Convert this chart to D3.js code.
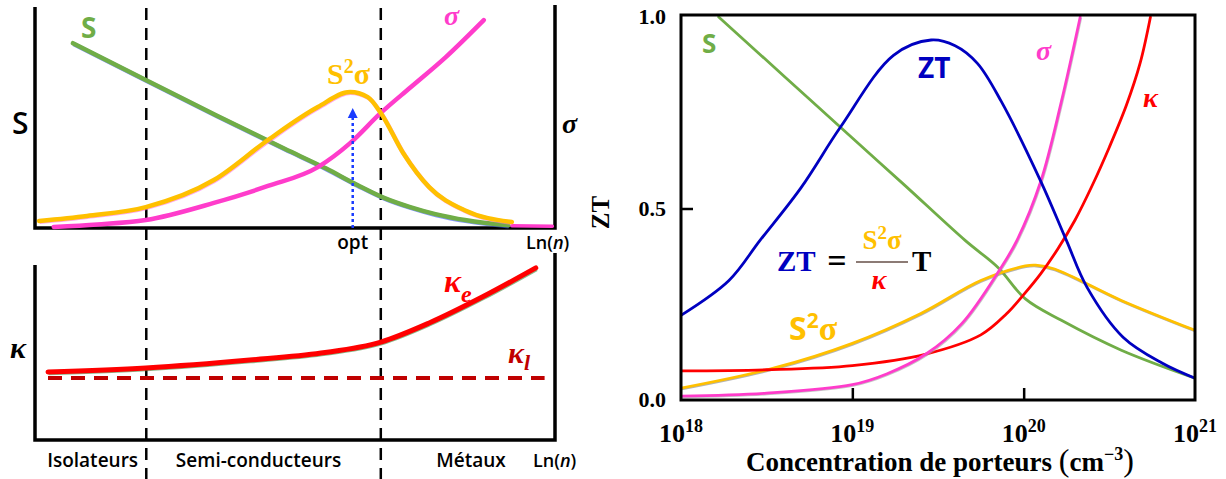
<!DOCTYPE html>
<html><head><meta charset="utf-8">
<script src="https://cdn.jsdelivr.net/npm/d3@7"></script>
<style>body{margin:0;background:#fff}svg{display:block}</style>
</head><body>
<svg id="fig" width="1226" height="479"></svg>
<script>
// ---------- Schematic (left): Ln(n) on an arbitrary 0–100 scale ----------
const regimeBounds = [21.4, 66.5];
const regimeNames = ["Isolateurs", "Semi-conducteurs", "Métaux"];
const schemSeebeck = [[7.3,84],[21.3,67.3],[35,51],[48,36],[56,27],[62,19.5],[67,13.8],[72,9.6],[77,6.3],[83,3.5],[91,1.2]];
const schemSigma = [[3.6,0.5],[12,1.6],[21.3,3.6],[34.4,11.4],[44.8,19.1],[54.4,27.7],[60.6,38.6],[66.5,52.3],[72.3,64.1],[79,77.7],[86.3,94.5]];
const schemPF = [[0.8,3.2],[10,5.5],[21.3,9.5],[34.4,21.8],[44.8,40],[54.4,55],[60.6,61.8],[64,59.5],[66.5,52.3],[70.8,34.1],[75.8,18.6],[82.5,8.2],[91.7,2.7]];
const schemTail = [[91.7,1.0],[99.5,0.8]];
const optimum = [61.1, 55];
const schemKe = [[2.5,37.8],[21.3,40],[41.3,44.4],[55,48.3],[66.5,54.4],[75.8,65],[86,79.4],[96.3,95.6]];
const schemKl = [[2.5,34.4],[98,34.4]];

// ---------- ZT versus carrier concentration (right), x = log10(n) ----------
const nTicks = [18, 19, 20, 21];
const yTicks = [0, 0.5, 1];
const ztCurve = [[18,0.221],[18.28,0.312],[18.46,0.416],[18.7,0.554],[18.93,0.712],[19.24,0.9],[19.46,0.94],[19.6,0.925],[19.73,0.879],[19.87,0.779],[20.1,0.571],[20.25,0.416],[20.37,0.294],[20.58,0.164],[20.81,0.096],[21,0.057]];
const seebeckCurve = [[18.22,1.0],[18.6,0.846],[19,0.684],[19.3,0.563],[19.66,0.416],[19.85,0.346],[20.01,0.264],[20.22,0.208],[20.57,0.13],[21,0.057]];
const sigmaCurve = [[18,0.01],[18.5,0.018],[19,0.04],[19.2,0.068],[19.43,0.12],[19.64,0.2],[19.86,0.34],[19.96,0.416],[20.1,0.571],[20.22,0.779],[20.33,1.0]];
const kappaCurve = [[18,0.076],[18.5,0.079],[19,0.09],[19.43,0.12],[19.75,0.17],[19.9,0.225],[20,0.275],[20.1,0.33],[20.2,0.395],[20.3,0.47],[20.4,0.56],[20.5,0.66],[20.6,0.77],[20.68,0.88],[20.74,1.0]];
const pfCurve = [[18,0.031],[18.54,0.083],[19,0.148],[19.4,0.226],[19.75,0.312],[20.01,0.35],[20.07,0.352],[20.18,0.342],[20.57,0.26],[21,0.182]];

const C = {green:"#70ad47", pink:"#ff3ccb", gold:"#ffc000", blue:"#0000c0", red:"#ff0000", dred:"#c00000", arrow:"#1a3cff"};
const sans = "'Open Sans', sans-serif", serif = "'Liberation Serif', 'DejaVu Serif', serif";

const svg = d3.select("#fig");

// ===== left schematic =====
const sx = d3.scaleLinear().domain([0,100]).range([35,555]);
const syTop = d3.scaleLinear().domain([0,100]).range([228,8]);
const syBot = d3.scaleLinear().domain([0,100]).range([440,260]);
const left = svg.append("g");

function frame(g, y, yTopL, yTopR){
  g.append("path").attr("fill","none").attr("stroke","#000").attr("stroke-width",3.5)
    .attr("d",`M${sx(0)},${yTopL}V${y(0)}H${sx(100)}V${yTopR}`);
}
frame(left, syTop, 7, 5);
frame(left, syBot, 265, 253);

// regime boundaries
left.selectAll("line.bound").data(regimeBounds).join("line")
  .attr("x1",d=>sx(d)).attr("x2",d=>sx(d)).attr("y1",8).attr("y2",479)
  .attr("stroke","#000").attr("stroke-width",2.5).attr("stroke-dasharray","12,8");

const lineTop = d3.line().x(d=>sx(d[0])).y(d=>syTop(d[1])).curve(d3.curveMonotoneX);
const lineBot = d3.line().x(d=>sx(d[0])).y(d=>syBot(d[1])).curve(d3.curveMonotoneX);

function stroke(g, gen, data, color, w, shade, extra){
  if (shade) g.append("path").attr("d",gen(data)).attr("fill","none").attr("stroke",shade)
      .attr("stroke-width",w).attr("transform","translate(0.6,0.8)").attr("opacity",0.6);
  const p = g.append("path").attr("d",gen(data)).attr("fill","none").attr("stroke",color)
    .attr("stroke-width",w).attr("stroke-linecap","round");
  if (extra) extra(p);
  return p;
}
stroke(left, lineTop, schemTail, C.pink, 3.5);
stroke(left, lineTop, schemSeebeck, C.green, 4.5, "#3050ff");
stroke(left, lineTop, schemSigma, C.pink, 4.5);
stroke(left, lineTop, schemPF, C.gold, 4.5, "#ff70e0");
stroke(left, lineBot, schemKe, C.red, 5, "#3a8a3a");
stroke(left, lineBot, schemKl, C.dred, 4, null, p=>p.attr("stroke-dasharray","14,9").attr("stroke-linecap","butt"));

// optimum arrow
const defs = svg.append("defs");
defs.append("marker").attr("id","ah").attr("viewBox","0 0 10 10").attr("refX",5).attr("refY",5)
  .attr("markerWidth",4).attr("markerHeight",4.5).attr("orient","auto")
  .append("path").attr("d","M0,0L10,5L0,10Z").attr("fill",C.arrow);
left.append("line").attr("x1",sx(optimum[0])).attr("x2",sx(optimum[0]))
  .attr("y1",syTop(0)).attr("y2",syTop(optimum[1])+6)
  .attr("stroke",C.arrow).attr("stroke-width",2.5).attr("stroke-dasharray","3,3")
  .attr("marker-end","url(#ah)");

function txt(g, x, y, s, opts){
  const t = g.append("text").attr("x",x).attr("y",y).text(s)
    .attr("font-family",opts.family||sans).attr("font-size",opts.size)
    .attr("font-weight",opts.weight||"bold").attr("fill",opts.fill||"#000");
  if (opts.italic) t.attr("font-style","italic");
  if (opts.anchor) t.attr("text-anchor",opts.anchor);
  return t;
}

txt(left, 81, 38, "S", {size:28, fill:C.green});
txt(left, 12, 134, "S", {size:30, weight:600});
txt(left, 444, 25, "σ", {size:28, family:serif, italic:true, fill:C.pink});
txt(left, 562, 133, "σ", {size:28, family:serif, italic:true});
{ const t = txt(left, 327, 84, "", {size:30, family:serif, fill:C.gold});
  t.append("tspan").text("S");
  t.append("tspan").attr("dy",-11).attr("font-size",20).text("2");
  t.append("tspan").attr("dy",11).text("σ"); }
txt(left, sx(optimum[0]), 249, "opt", {size:19, weight:600, anchor:"middle"});
[[526,249],[533,467]].forEach(([lx,ly])=>{
  const t = txt(left, lx, ly, "Ln(", {size:18, weight:600});
  t.append("tspan").attr("font-style","italic").text("n");
  t.append("tspan").text(")");
});

txt(left, 10, 358, "κ", {size:30, family:serif, italic:true});
{ const t = txt(left, 444, 292, "κ", {size:32, family:serif, italic:true, fill:C.red});
  t.append("tspan").attr("dy",10).attr("font-size",24).text("e"); }
{ const t = txt(left, 508, 363, "κ", {size:30, family:serif, italic:true, fill:C.dred});
  t.append("tspan").attr("dy",7).attr("font-size",22).text("l"); }

const regimeCenters = [ (sx(0)+sx(regimeBounds[0]))/2 + 2, (sx(regimeBounds[0])+sx(regimeBounds[1]))/2 - 5, 471 ];
regimeNames.forEach((n,i)=> txt(left, regimeCenters[i], 467, n, {size:19, weight:600, anchor:"middle"}));

// ===== right chart =====
const x = d3.scaleLog().domain([1e18,1e21]).range([681,1195]);
const y = d3.scaleLinear().domain([0,1]).range([400,17]);
const right = svg.append("g");
const ln = d3.line().x(d=>x(Math.pow(10,d[0]))).y(d=>y(d[1])).curve(d3.curveCatmullRom.alpha(0.5));

right.append("defs").append("clipPath").attr("id","clipR").append("rect")
  .attr("x",681).attr("y",15).attr("width",514).attr("height",385);
const plot = right.append("g").attr("clip-path","url(#clipR)");
[[seebeckCurve,C.green],[pfCurve,C.gold,"#808080"],[kappaCurve,C.red],[sigmaCurve,C.pink,"#a0a0a0"],[ztCurve,C.blue]]
  .forEach(([d,c,sh])=> stroke(plot, ln, d, c, 2.8, sh));

// frame
right.append("rect").attr("x",681).attr("y",15).attr("width",514).attr("height",385)
  .attr("fill","none").attr("stroke","#000").attr("stroke-width",3);

// inner ticks
const xAxis = d3.axisBottom(x).tickValues(nTicks.slice(1,3).map(e=>Math.pow(10,e))).tickSize(-12).tickFormat("");
right.append("g").attr("transform","translate(0,400)").call(xAxis)
  .call(g=>g.select(".domain").remove())
  .call(g=>g.selectAll("line").attr("stroke-width",2.5));
const yAxis = d3.axisLeft(y).tickValues([0.5]).tickSize(-12).tickFormat("");
right.append("g").attr("transform","translate(681,0)").call(yAxis)
  .call(g=>g.select(".domain").remove())
  .call(g=>g.selectAll("line").attr("stroke-width",2.5));

// tick labels
nTicks.forEach(e=>{
  const t = txt(right, x(Math.pow(10,e)), 442, "", {size:26, family:serif, anchor:"middle"});
  t.append("tspan").text("10");
  t.append("tspan").attr("dy",-10).attr("font-size",18).text(String(e));
});
yTicks.forEach(v=> txt(right, 666, y(v)+7, d3.format(".1f")(v), {size:22, family:serif, anchor:"end"}));
txt(right, 0, 0, "ZT", {size:25, family:serif, anchor:"middle"})
  .attr("transform",`translate(609,${y(0.5)+4}) rotate(-90)`);
{ const t = txt(right, 940, 471, "Concentration de porteurs ", {size:27, family:serif, anchor:"middle"});
  t.append("tspan").attr("font-weight","normal").attr("font-size",32).text("(");
  t.append("tspan").text("cm");
  t.append("tspan").attr("dy",-11).attr("font-size",18).text("−3");
  t.append("tspan").attr("dy",11).attr("font-weight","normal").attr("font-size",32).text(")"); }

// curve labels
txt(right, 702, 53, "S", {size:26, fill:C.green});
txt(right, 918, 78, "ZT", {size:28, fill:C.blue});
txt(right, 1036, 60, "σ", {size:28, family:serif, italic:true, fill:C.pink});
txt(right, 1143, 107, "κ", {size:28, family:serif, italic:true, fill:C.red});
{ const t = txt(right, 789, 340, "", {size:32, fill:C.gold});
  t.append("tspan").text("S");
  t.append("tspan").attr("dy",-12).attr("font-size",21).text("2");
  t.append("tspan").attr("dy",12).attr("font-family",serif).attr("font-size",34).text("σ"); }

// ZT formula
txt(right, 777, 271, "ZT", {size:29, family:serif, fill:C.blue});
txt(right, 837, 272, "=", {size:34, family:serif, anchor:"middle"});
right.append("line").attr("x1",856).attr("x2",908).attr("y1",262).attr("y2",262)
  .attr("stroke","#8c7b75").attr("stroke-width",2);
{ const t = txt(right, 882, 249, "", {size:27, family:serif, anchor:"middle", fill:C.gold});
  t.append("tspan").text("S");
  t.append("tspan").attr("dy",-10).attr("font-size",19).text("2");
  t.append("tspan").attr("dy",10).text("σ"); }
txt(right, 879, 289, "κ", {size:28, family:serif, italic:true, anchor:"middle", fill:C.red});
txt(right, 912, 271, "T", {size:29, family:serif});
</script>
</body></html>
